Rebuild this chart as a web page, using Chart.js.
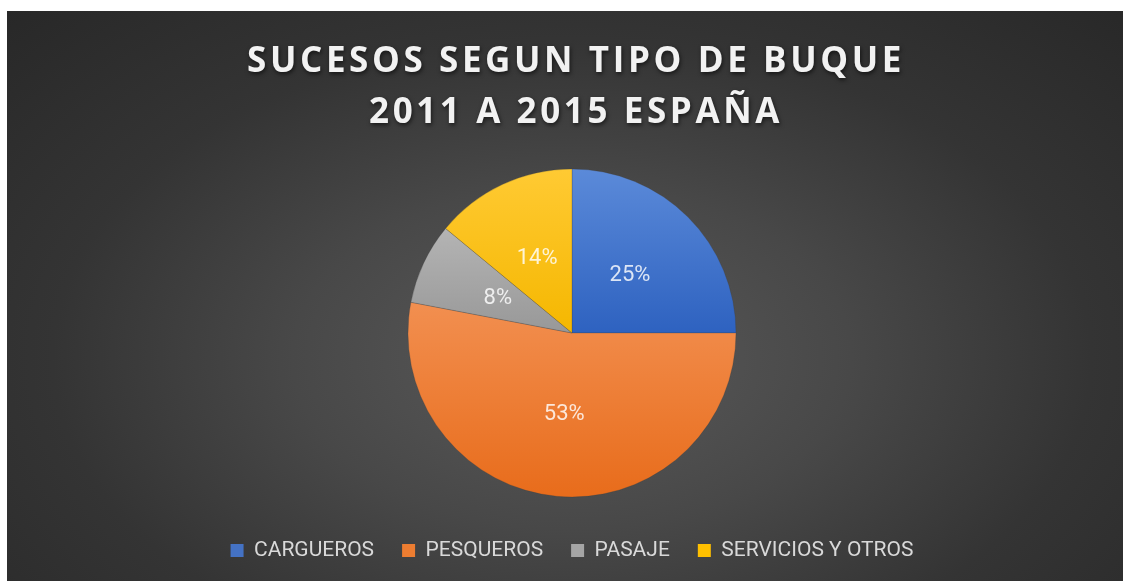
<!DOCTYPE html>
<html>
<head>
<meta charset="utf-8">
<script src="https://cdn.jsdelivr.net/npm/chart.js@4"></script>
<style>
    html, body { margin: 0; padding: 0; background: #ffffff; overflow: hidden; }
    #box {
        position: absolute;
        left: 7px;
        top: 11px;
        width: 1130px;
        height: 578px;
        background: radial-gradient(ellipse farthest-corner at 50% 60%, #5a5a5a 0%, #484848 35%, #343434 65%, #282828 100%);
    }
</style>
</head>
<body>
<div id="box"><canvas id="pie"></canvas></div>
<script>
//// data
const titleLines = ["SUCESOS SEGUN TIPO DE BUQUE", "2011 A 2015 ESPAÑA"]
const categories = ["CARGUEROS", "PESQUEROS", "PASAJE", "SERVICIOS Y OTROS"]
const shares = [25, 53, 8, 14]

// office colours: solid for the legend, light/dark for the slice gradient
const solidColors = ["#4472c4", "#ed7d31", "#a5a5a5", "#ffc000"]
const lightColors = ["#5b8ad9", "#f28f50", "#b4b4b4", "#ffca33"]
const darkColors = ["#2e62c0", "#e86c1b", "#989898", "#f5b700"]

const total = shares.reduce((a, b) => a + b, 0)

//// helpers
// vertical gradient over the slice's own height
function sliceFill(context) {
    const i = context.dataIndex
    const chart = context.chart
    const area = chart.chartArea
    if (!area) return solidColors[i]
    const cx = (area.left + area.right) / 2
    const cy = (area.top + area.bottom) / 2
    const r = 164
    let before = 0
    for (let k = 0; k < i; k++) before += shares[k]
    const start = -Math.PI / 2 + 2 * Math.PI * before / total
    const end = start + 2 * Math.PI * shares[i] / total
    const ys = [0, Math.sin(start), Math.sin(end)]
    const has = (a) => {
        for (let t = a; t < end + 0.0001; t += 2 * Math.PI) if (t >= start) return true
        return false
    }
    if (has(Math.PI / 2) || has(Math.PI / 2 - 2 * Math.PI)) ys.push(1)
    if (has(-Math.PI / 2 + 0.0001) || has(3 * Math.PI / 2)) ys.push(-1)
    const top = cy + r * Math.min(...ys)
    const bottom = cy + r * Math.max(...ys)
    const g = chart.ctx.createLinearGradient(cx, top, cx, bottom + 0.01)
    g.addColorStop(0, lightColors[i])
    g.addColorStop(1, darkColors[i])
    return g
}

//// plugins
const spacedTitle = {
    id: "spacedTitle",
    afterDraw(chart) {
        const ctx = chart.ctx
        ctx.save()
        ctx.font = "bold 35px 'Open Sans'"
        ctx.letterSpacing = "3.6px"
        ctx.fillStyle = "#f2f2f2"
        ctx.textAlign = "center"
        ctx.textBaseline = "alphabetic"
        ctx.shadowColor = "rgba(0,0,0,0.6)"
        ctx.shadowBlur = 4
        ctx.shadowOffsetX = 1
        ctx.shadowOffsetY = 2
        const x = chart.width / 2 + 4
        ctx.fillText(titleLines[0], x, 61)
        ctx.fillText(titleLines[1], x, 112)
        ctx.restore()
    }
}

const percentLabels = {
    id: "percentLabels",
    afterDatasetsDraw(chart) {
        const ctx = chart.ctx
        const meta = chart.getDatasetMeta(0)
        ctx.save()
        ctx.font = "22px Roboto"
        ctx.fillStyle = "rgba(255,255,255,0.82)"
        ctx.textAlign = "center"
        ctx.textBaseline = "middle"
        meta.data.forEach((arc, i) => {
            const p = arc.tooltipPosition()
            ctx.fillText(Math.round(shares[i] / total * 100) + "%", p.x, p.y)
        })
        ctx.restore()
    }
}

//// chart
const pieChart = new Chart(document.querySelector("#pie"), {
    type: "pie",
    data: {
        labels: categories,
        datasets: [{
            data: shares,
            backgroundColor: sliceFill,
            borderColor: "rgba(60,60,60,0.35)",
            borderWidth: 0.75,
            radius: 164
        }]
    },
    options: {
        responsive: true,
        maintainAspectRatio: false,
        animation: false,
        layout: {
            padding: { top: 143, bottom: 18 }
        },
        plugins: {
            tooltip: { enabled: false },
            title: { display: false },
            legend: {
                display: true,
                position: "bottom",
                labels: {
                    color: "#d9d9d9",
                    font: { family: "Roboto", size: 21 },
                    boxWidth: 13,
                    boxHeight: 13,
                    padding: 28,
                    generateLabels(chart) {
                        return categories.map((c, i) => ({
                            text: c,
                            fillStyle: solidColors[i],
                            strokeStyle: solidColors[i],
                            lineWidth: 0,
                            fontColor: "#d9d9d9",
                            hidden: false,
                            index: i
                        }))
                    }
                }
            }
        }
    },
    plugins: [spacedTitle, percentLabels]
});

pieChart.update()
</script>
</body>
</html>
